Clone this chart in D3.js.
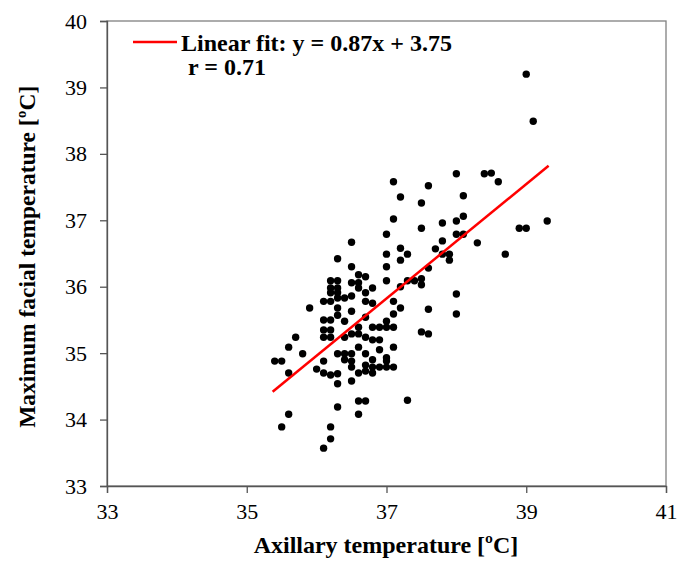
<!DOCTYPE html>
<html>
<head>
<meta charset="utf-8">
<script src="https://cdn.jsdelivr.net/npm/d3@7"></script>
<style>
  body { margin: 0; background: #fff; }
  text { font-family: "Liberation Serif", "Times New Roman", serif; }
</style>
</head>
<body>
<div id="chart"></div>
<script>
// axillary temperature (x) and maximum facial temperature (y)
const axillary = [39.0, 39.1, 38.9, 39.0, 39.3, 38.7, 38.5, 38.6, 38.4, 38.0,
  37.1, 37.6, 37.2, 38.1, 37.5, 37.1, 37.8, 38.0, 38.1, 37.5,
  37.0, 38.0, 38.1, 37.8, 38.3, 37.2, 37.7, 37.0, 37.3, 37.8,
  37.9, 37.2, 37.9, 37.0, 37.6, 37.0, 37.3, 37.4, 37.5, 37.5,
  37.2, 38.0, 37.1, 37.2, 37.6, 38.0, 37.1, 37.0, 36.9, 37.0,
  37.1, 37.5, 37.6, 36.9, 36.9, 37.1, 37.0, 37.3,
  36.5, 36.3, 36.5, 36.6, 36.7, 36.2, 36.3, 36.5, 36.6, 36.2,
  36.3, 36.6, 36.8, 36.2, 36.3, 36.7, 36.1, 36.2, 36.3, 36.4,
  36.5, 36.7, 35.9, 36.3, 36.8, 36.5, 36.3, 36.1, 36.2, 36.4,
  36.7, 36.1, 36.2, 36.6, 36.8, 35.7, 36.1, 36.2, 36.4, 36.5,
  36.6, 36.7, 36.8, 35.6, 35.8, 35.4, 35.5, 36.3, 36.4, 36.5,
  36.6, 36.4, 36.5, 36.7, 36.1, 36.8, 36.7, 36.8, 36.9, 37.0,
  37.1, 37.0, 36.0, 35.6, 36.1, 36.2, 36.3, 36.5, 36.6, 36.7,
  36.8, 36.3, 36.5, 36.6, 36.7, 36.3, 36.6, 35.6, 35.5, 36.2,
  36.2, 36.1];
const facial = [39.20, 38.49, 36.88, 36.88, 36.99, 36.49, 37.71, 37.58, 37.70, 37.70,
  37.58, 37.52, 37.35, 37.37, 37.26, 37.02, 36.96, 36.99, 37.06, 36.88,
  36.79, 36.79, 36.79, 36.69, 36.66, 36.58, 36.57, 36.49, 36.49, 36.49,
  36.49, 36.40, 36.40, 36.30, 36.28, 36.09, 36.09, 36.09, 36.12, 36.03,
  36.00, 35.89, 35.78, 35.68, 35.66, 35.59, 35.59, 35.48, 35.39, 35.39,
  35.39, 35.32, 35.29, 35.20, 35.05, 35.09, 34.93, 34.29,
  36.67, 36.42, 36.30, 36.18, 36.15, 36.09, 36.09, 36.06, 36.06, 35.98,
  35.98, 35.98, 35.98, 35.91, 35.91, 35.91, 35.78, 35.78, 35.83, 35.83,
  35.86, 35.78, 35.68, 35.68, 35.75, 35.63, 35.57, 35.50, 35.50, 35.48,
  35.54, 35.35, 35.35, 35.39, 35.39, 35.24, 35.24, 35.24, 35.24, 35.29,
  35.29, 35.24, 35.20, 35.09, 34.99, 34.88, 34.88, 34.99, 34.99, 34.99,
  35.09, 34.90, 34.88, 34.99, 34.88, 34.90, 34.82, 34.79, 34.79, 34.79,
  34.79, 34.88, 34.76, 34.70, 34.70, 34.67, 34.69, 34.79, 34.70, 34.73,
  34.70, 34.54, 34.58, 34.28, 34.28, 34.19, 34.08, 34.08, 33.89, 33.89,
  33.71, 33.57];

// fitted line endpoints as drawn
const fitX = [35.37, 39.32];
const fitY = [34.42, 37.82];

const xTicks = [33, 35, 37, 39, 41];
const yTicks = [33, 34, 35, 36, 37, 38, 39, 40];

const legendLines = ["Linear fit: y = 0.87x + 3.75", "r = 0.71"];

let width = 678, height = 564;
let margin = {top: 21, right: 12, bottom: 78, left: 107};

let svg = d3.select("#chart").append("svg")
    .attr("width", width)
    .attr("height", height);

let x = d3.scaleLinear().domain([33, 41]).range([margin.left, width - margin.right]);
let y = d3.scaleLinear().domain([33, 40]).range([height - margin.bottom, margin.top]);

// frame
svg.append("rect")
    .attr("x", x(33))
    .attr("y", y(40))
    .attr("width", x(41) - x(33))
    .attr("height", y(33) - y(40))
    .attr("fill", "none")
    .attr("stroke", "#808080")
    .attr("stroke-width", 1.3);

let xAxis = svg.append("g")
    .attr("transform", "translate(0," + y(33) + ")")
    .call(d3.axisBottom(x).tickValues(xTicks).tickSize(7).tickPadding(10).tickFormat(d3.format("d")));

let yAxis = svg.append("g")
    .attr("transform", "translate(" + x(33) + ",0)")
    .call(d3.axisLeft(y).tickValues(yTicks).tickSize(7).tickPadding(13).tickFormat(d3.format("d")));

[xAxis, yAxis].forEach(g => {
    g.select(".domain").attr("stroke", "#555").attr("stroke-width", 1.3);
    g.selectAll(".tick line").attr("stroke", "#555").attr("stroke-width", 1.3);
    g.selectAll(".tick text")
        .attr("fill", "#000")
        .style("font-family", "'Liberation Serif', serif")
        .style("font-size", "22px");
});

// points
svg.append("g").selectAll("circle")
    .data(axillary.map((d, i) => [d, facial[i]]))
    .join("circle")
    .attr("cx", d => x(d[0]))
    .attr("cy", d => y(d[1]))
    .attr("r", 3.7)
    .attr("fill", "#000");

// fit line
svg.append("line")
    .attr("x1", x(fitX[0]))
    .attr("y1", y(fitY[0]))
    .attr("x2", x(fitX[1]))
    .attr("y2", y(fitY[1]))
    .attr("stroke", "#ff0000")
    .attr("stroke-width", 2.5);

// legend
svg.append("line")
    .attr("x1", 133).attr("x2", 177)
    .attr("y1", 42).attr("y2", 42)
    .attr("stroke", "#ff0000")
    .attr("stroke-width", 2.5);

svg.append("text")
    .attr("x", 181).attr("y", 51)
    .style("font-size", "24px")
    .style("font-weight", "bold")
    .text(legendLines[0]);

svg.append("text")
    .attr("x", 188).attr("y", 75)
    .style("font-size", "24px")
    .style("font-weight", "bold")
    .text(legendLines[1]);

// axis titles
svg.append("text")
    .attr("x", 386).attr("y", 553)
    .attr("text-anchor", "middle")
    .style("font-size", "24px")
    .style("font-weight", "bold")
    .text("Axillary temperature [ºC]");

svg.append("text")
    .attr("transform", "translate(35," + y(36.45) + ") rotate(-90)")
    .attr("text-anchor", "middle")
    .style("font-size", "23.5px")
    .style("font-weight", "bold")
    .text("Maximum facial temperature [ºC]");
</script>
</body>
</html>
